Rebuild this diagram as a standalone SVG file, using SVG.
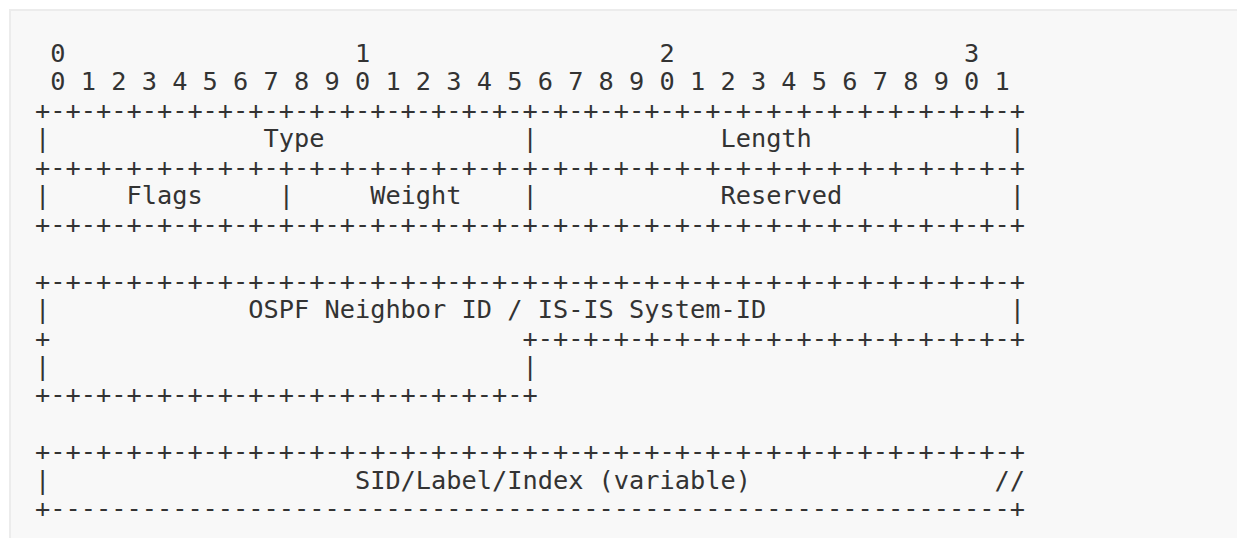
<svg xmlns="http://www.w3.org/2000/svg" width="1237" height="538" viewBox="0 0 1237 538" xml:space="preserve">
<style>
.bg{fill:#f8f8f8;stroke:#ececec;stroke-width:2}
text{font-family:"DejaVu Sans Mono","Liberation Mono",monospace;font-size:25.3px;fill:#333333;white-space:pre}
</style>
<rect class="bg" x="10" y="10" width="1240" height="540"/>
<g id="packet">
<text xml:space="preserve" x="35.1" y="62"> 0                   1                   2                   3</text>
<text xml:space="preserve" x="35.1" y="90.45"> 0 1 2 3 4 5 6 7 8 9 0 1 2 3 4 5 6 7 8 9 0 1 2 3 4 5 6 7 8 9 0 1</text>
<text xml:space="preserve" x="35.1" y="118.9">+-+-+-+-+-+-+-+-+-+-+-+-+-+-+-+-+-+-+-+-+-+-+-+-+-+-+-+-+-+-+-+-+</text>
<text xml:space="preserve" x="35.1" y="147.35">|              Type             |            Length             |</text>
<text xml:space="preserve" x="35.1" y="175.8">+-+-+-+-+-+-+-+-+-+-+-+-+-+-+-+-+-+-+-+-+-+-+-+-+-+-+-+-+-+-+-+-+</text>
<text xml:space="preserve" x="35.1" y="204.25">|     Flags     |     Weight    |            Reserved           |</text>
<text xml:space="preserve" x="35.1" y="232.7">+-+-+-+-+-+-+-+-+-+-+-+-+-+-+-+-+-+-+-+-+-+-+-+-+-+-+-+-+-+-+-+-+</text>
<text xml:space="preserve" x="35.1" y="289.6">+-+-+-+-+-+-+-+-+-+-+-+-+-+-+-+-+-+-+-+-+-+-+-+-+-+-+-+-+-+-+-+-+</text>
<text xml:space="preserve" x="35.1" y="318.05">|             OSPF Neighbor ID / IS-IS System-ID                |</text>
<text xml:space="preserve" x="35.1" y="346.5">+                               +-+-+-+-+-+-+-+-+-+-+-+-+-+-+-+-+</text>
<text xml:space="preserve" x="35.1" y="374.95">|                               |</text>
<text xml:space="preserve" x="35.1" y="403.4">+-+-+-+-+-+-+-+-+-+-+-+-+-+-+-+-+</text>
<text xml:space="preserve" x="35.1" y="460.3">+-+-+-+-+-+-+-+-+-+-+-+-+-+-+-+-+-+-+-+-+-+-+-+-+-+-+-+-+-+-+-+-+</text>
<text xml:space="preserve" x="35.1" y="488.75">|                    SID/Label/Index (variable)                //</text>
<text xml:space="preserve" x="35.1" y="517.2">+---------------------------------------------------------------+</text>
</g>
</svg>
